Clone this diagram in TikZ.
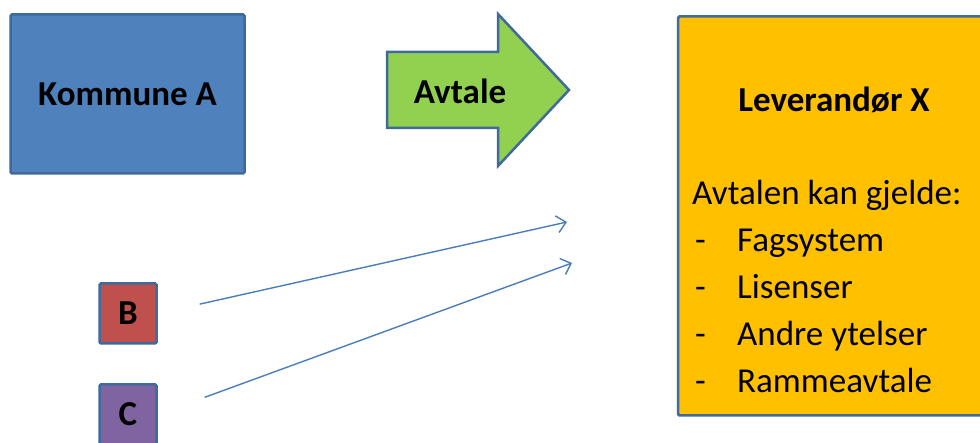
\documentclass[tikz,border=0pt]{standalone}
\usepackage{fontspec}
\setmainfont{Carlito}
\usetikzlibrary{arrows.meta}
\definecolor{blaa}{HTML}{4F81BD}
\definecolor{kant}{HTML}{3F6A9C}
\definecolor{roed}{HTML}{C0504D}
\definecolor{lilla}{HTML}{8064A2}
\definecolor{groenn}{HTML}{92D050}
\definecolor{gul}{HTML}{FFC000}
\definecolor{pilfarge}{HTML}{4A7EBB}
\tikzset{
  boks/.style={draw=kant, line width=2.5pt, rounded corners=1.5pt, inner sep=0pt},
  tekst/.style={inner sep=0pt, font=\fontsize{35}{42}\selectfont},
  fet/.style={inner sep=0pt, font=\fontsize{35}{42}\selectfont\bfseries},
  pil/.style={draw=pilfarge, line width=1.4pt, -{Straight Barb[length=9pt,width=17pt]}},
}
\begin{document}
\begin{tikzpicture}[x=1pt,y=-1pt]
  \useasboundingbox (0,0) rectangle (980,443);
  % 方框
  \node[boks, fill=blaa, minimum width=234pt, minimum height=159pt, fet] (kommune) at (127.5,94) {Kommune A};
  \node[boks, fill=roed, minimum width=57pt, minimum height=60pt, fet] (b) at (128,313.5) {B};
  \node[boks, fill=lilla, minimum width=57pt, minimum height=60pt, fet] (c) at (128,414.5) {C};
  \node[boks, fill=gul, minimum width=316pt, minimum height=399pt] (lev) at (836,216) {};
  % 箭头
  \draw[draw=kant, line width=2.5pt, fill=groenn, line join=miter]
    (387,52) -- (498,52) -- (498,14) -- (569,90) -- (498,166) -- (498,128) -- (387,128) -- cycle;
  \node[fet] (avtale) at (460,91) {Avtale};
  % 文字
  \node[fet, anchor=base] (tittel) at (834,112) {Leverandør X};
  \node[tekst, anchor=base west] (gjelde) at (692,205) {Avtalen kan gjelde:};
  \foreach \t [count=\i] in {Fagsystem, Lisenser, Andre ytelser, Rammeavtale} {
    \node[tekst, anchor=base west] (strek\i) at (695,205.3+46.7*\i) {-};
    \node[tekst, anchor=base west] (punkt\i) at (737,205.3+46.7*\i) {\t};
  }
  % 连线
  \coordinate (endeB) at (567,222);
  \coordinate (endeC) at (572,263);
  \draw[pil, shorten <=43pt] (b.east) -- (endeB);
  \draw[pil, shorten <=50pt] (c.east) -- (endeC);
\end{tikzpicture}
\end{document}
